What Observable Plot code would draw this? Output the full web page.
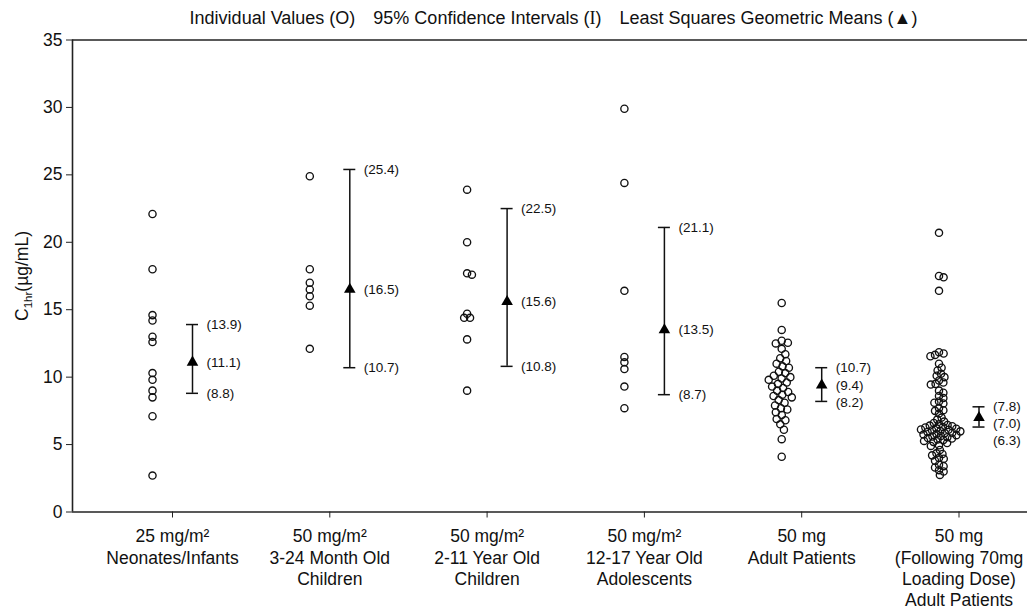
<!DOCTYPE html>
<html><head><meta charset="utf-8">
<script src="https://cdn.jsdelivr.net/npm/d3@7"></script>
<script src="https://cdn.jsdelivr.net/npm/@observablehq/plot@0.6"></script>
<style>
html,body{margin:0;background:#fff;overflow:hidden;font-family:"Liberation Sans",Arial,sans-serif;}
#title{height:30px;width:1027px;box-sizing:border-box;padding-left:80px;padding-top:8px;line-height:20px;text-align:center;font-size:18px;color:#111;white-space:nowrap;}
#title .gap{display:inline-block;width:18px;}
#title .serif{font-family:"Liberation Serif",serif;}
#chart{width:1027px;overflow:hidden;}
#chart svg{display:block;}
</style></head><body>
<div id="title">Individual Values (O)<span class="gap"></span>95% Confidence Intervals (<span class="serif">I</span>)<span class="gap"></span>Least Squares Geometric Means (▲)</div>
<div id="chart"></div>
<script>
// ---- data ----
const groupLabels = [
  "25 mg/m²\nNeonates/Infants",
  "50 mg/m²\n3-24 Month Old\nChildren",
  "50 mg/m²\n2-11 Year Old\nChildren",
  "50 mg/m²\n12-17 Year Old\nAdolescents",
  "50 mg\nAdult Patients",
  "50 mg\n(Following 70mg\nLoading Dose)\nAdult Patients"
];
const neonates = [22.1, 18.0, 14.6, 14.2, 13.0, 12.6, 10.3, 9.8, 9.0, 8.5, 7.1, 2.7];
const months3to24 = [24.9, 18.0, 17.0, 16.5, 16.0, 15.3, 12.1];
const years2to11 = [23.9, 20.0, 17.7, 17.6, 14.7, 14.4, 14.4, 12.8, 9.0];
const adolescents = [29.9, 24.4, 16.4, 11.5, 11.1, 10.6, 9.3, 7.7];
const adults = [15.5, 13.5, 12.7, 12.55, 12.5, 12.1, 11.7, 11.4, 11.2, 11.0, 10.8, 10.7, 10.4, 10.3, 10.1, 10.0,
  9.9, 9.8, 9.6, 9.5, 9.3, 9.2, 9.0, 8.9, 8.7, 8.6, 8.5, 8.3, 8.1, 7.9, 7.7, 7.6, 7.4, 7.2, 6.9, 6.8, 6.5, 6.1, 5.4, 4.1];
const adultsLoading = [20.7, 17.5, 17.4, 16.4,
  11.85, 11.75, 11.65, 11.55, 11.0, 10.7, 10.5, 10.25, 10.1, 10.0, 9.75, 9.6, 9.5, 9.45, 9.0, 8.85, 8.6, 8.45,
  8.2, 8.1, 8.05, 7.7, 7.55, 7.5, 7.3, 7.0, 6.85, 6.7, 6.6,
  6.5, 6.45, 6.41, 6.36, 6.3, 6.27, 6.2, 6.17, 6.12, 6.1, 6.04, 6.0, 5.98, 5.93, 5.88, 5.85, 5.79, 5.74,
  5.7, 5.64, 5.6, 5.55, 5.48, 5.45, 5.38, 5.33, 5.27, 5.2, 5.12,
  4.95, 4.9, 4.6, 4.35, 4.3, 4.2, 4.0, 3.95, 3.8, 3.5, 3.4, 3.3, 3.1, 3.0, 2.75];
const groupValues = [neonates, months3to24, years2to11, adolescents, adults, adultsLoading];
const ciLow  = [8.8, 10.7, 10.8, 8.7, 8.2, 6.3];
const gMean  = [11.1, 16.5, 15.6, 13.5, 9.4, 7.0];
const ciHigh = [13.9, 25.4, 22.5, 21.1, 10.7, 7.8];
const yTicks = [0, 5, 10, 15, 20, 25, 30, 35];

// ---- layout ----
const W = 1027, H = 580, mL = 72, mR = 0, mT = 9.5, mB = 98.5;
const step = 157.3, firstTick = 172;
const xDomain = [(mL - firstTick) / step, (W - mR - firstTick) / step];
const yMax = 35;
const innerH = H - mT - mB;
const yPix = v => mT + (1 - v / yMax) * innerH;
const yVal = p => yMax * (1 - (p - mT) / innerH);
const ptOff = -20, ciOff = 20, capHalf = 6, lblOff = 14, lblGap = 17;
const swarmDist = [5, 5, 5, 5, 6.5, 4.8];

function swarm(vals, d) {
  const pts = vals.map(v => ({v, py: yPix(v)})).sort((a, b) => a.py - b.py);
  const placed = [];
  for (const p of pts) {
    const cands = [0];
    for (const q of placed) {
      const dy = p.py - q.py;
      if (Math.abs(dy) < d) { const dx = Math.sqrt(d * d - dy * dy); cands.push(q.ox + dx, q.ox - dx); }
    }
    cands.sort((a, b) => Math.abs(a) - Math.abs(b));
    for (const c of cands) {
      if (placed.every(q => (q.ox - c) ** 2 + (q.py - p.py) ** 2 >= d * d - 1e-6)) { p.ox = c; break; }
    }
    placed.push(p);
  }
  return placed;
}

const dots = [];
groupValues.forEach((vals, i) => {
  for (const p of swarm(vals, swarmDist[i])) dots.push({x: i + (ptOff + p.ox) / step, y: p.v});
});
const ci = groupLabels.map((g, i) => ({i, low: ciLow[i], mean: gMean[i], high: ciHigh[i], x: i + ciOff / step}));
const labels = [];
ci.forEach(d => {
  const top = yPix(d.high);
  const mid = Math.max(yPix(d.mean), top + lblGap);
  const bot = Math.max(yPix(d.low), mid + lblGap);
  const lx = d.i + (ciOff + lblOff) / step;
  labels.push({x: lx, y: yVal(top), t: d.high}, {x: lx, y: yVal(mid), t: d.mean}, {x: lx, y: yVal(bot), t: d.low});
});

const chart = Plot.plot({
  width: W, height: H, marginLeft: mL, marginRight: mR, marginTop: mT, marginBottom: mB,
  style: {fontFamily: '"Liberation Sans", Arial, sans-serif', color: "#111", background: "#fff"},
  x: {type: "linear", domain: xDomain},
  y: {domain: [0, yMax]},
  marks: [
    Plot.ruleY([0, yMax], {stroke: "#222", strokeWidth: 1.6}),
    Plot.ruleX([xDomain[0]], {stroke: "#222", strokeWidth: 1.6}),
    Plot.axisY({ticks: yTicks, tickSize: 6, tickPadding: 4, fontSize: 17.5, label: null, stroke: "#222"}),
    Plot.axisX({ticks: d3.range(groupLabels.length), tickFormat: i => groupLabels[i], tickSize: 6, tickPadding: 9,
      fontSize: 17.5, lineHeight: 1.22, label: null, stroke: "#222"}),
    Plot.text(["C1hr(µg/mL)"], {frameAnchor: "left", textAnchor: "middle", dx: -50, rotate: -90, fontSize: 17.5, fill: "#111"}),
    Plot.dot(dots, {x: "x", y: "y", r: 3.6, stroke: "#111", strokeWidth: 1.35, fill: "none"}),
    Plot.ruleX(ci, {x: "x", y1: "low", y2: "high", stroke: "#111", strokeWidth: 1.5}),
    Plot.ruleY(ci, {y: "low", x1: d => d.x - capHalf / step, x2: d => d.x + capHalf / step, stroke: "#111", strokeWidth: 1.5}),
    Plot.ruleY(ci, {y: "high", x1: d => d.x - capHalf / step, x2: d => d.x + capHalf / step, stroke: "#111", strokeWidth: 1.5}),
    Plot.dot(ci, {x: "x", y: "mean", symbol: "triangle", r: 4.3, fill: "#000", stroke: "none"}),
    Plot.text(labels, {x: "x", y: "y", text: d => `(${d.t.toFixed(1)})`, textAnchor: "start", fontSize: 13.5, fill: "#111"})
  ]
});
document.getElementById("chart").appendChild(chart);

// subscript in y label
for (const t of chart.querySelectorAll("text")) {
  if (t.textContent === "C1hr(µg/mL)") {
    t.textContent = "";
    const ns = "http://www.w3.org/2000/svg";
    const a = document.createElementNS(ns, "tspan"); a.textContent = "C";
    const b = document.createElementNS(ns, "tspan"); b.textContent = "1hr"; b.setAttribute("font-size", "11.5"); b.setAttribute("dy", "4");
    const c = document.createElementNS(ns, "tspan"); c.textContent = "(µg/mL)"; c.setAttribute("dy", "-4");
    t.append(a, b, c);
  }
}
</script>
</body></html>
